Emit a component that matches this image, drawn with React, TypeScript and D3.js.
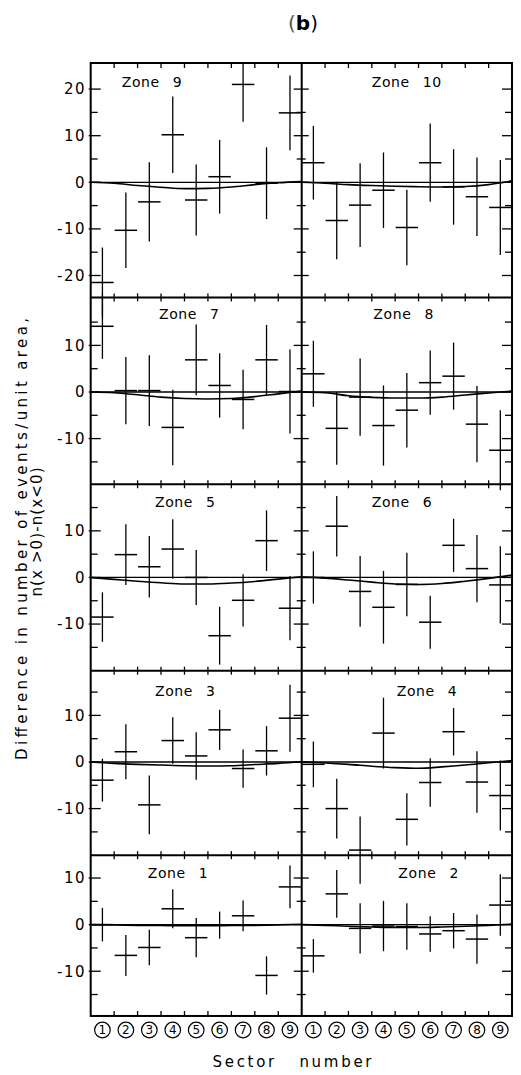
import React from 'react';
import * as d3 from 'd3';

// ---------- data ----------
const sectors = [1, 2, 3, 4, 5, 6, 7, 8, 9];
const modelPts = [0, 1, 2, 3, 4, 5, 6, 7, 8, 9]; // sector boundaries where model curve was read

const zone9Val = [-21.5, -10.3, -4.2, 10.2, -3.8, 1.2, 21.0, -0.2, 14.9];
const zone9Err = [7.5, 8.1, 8.5, 8.2, 7.6, 7.9, 8.0, 7.7, 8.0];
const zone9Model = [0, -0.2, -0.7, -1.05, -1.35, -1.3, -1.0, -0.5, -0.1, 0.15];

const zone10Val = [4.2, -8.2, -4.9, -1.7, -9.7, 4.2, -1.0, -3.1, -5.4];
const zone10Err = [7.9, 8.3, 9.0, 8.1, 8.1, 8.4, 8.1, 8.4, 10.2];
const zone10Model = [0, -0.2, -0.5, -0.7, -0.85, -0.95, -1.0, -0.9, -0.5, 0.3];

const zone7Val = [14.1, 0.3, 0.3, -7.6, 6.9, 1.4, -1.6, 6.9, 0.1];
const zone7Err = [7.0, 7.2, 7.6, 8.1, 7.6, 6.9, 6.4, 7.5, 9.0];
const zone7Model = [0, -0.15, -0.6, -1.1, -1.4, -1.5, -1.4, -1.0, -0.4, 0.2];

const zone8Val = [3.9, -7.8, -1.1, -7.2, -3.9, 2.0, 3.4, -6.9, -12.5];
const zone8Err = [7.1, 7.8, 8.3, 8.6, 8.0, 6.9, 7.2, 8.2, 8.6];
const zone8Model = [0, -0.15, -0.8, -1.15, -1.3, -1.3, -1.1, -0.65, -0.2, 0.2];

const zone5Val = [-8.5, 4.9, 2.3, 6.1, 0, -12.5, -4.9, 7.9, -6.6];
const zone5Err = [5.3, 6.5, 6.6, 6.4, 5.9, 6.2, 5.6, 6.5, 6.9];
const zone5Model = [0, -0.4, -0.8, -1.15, -1.4, -1.4, -1.2, -0.85, -0.35, 0.15];

const zone6Val = [0, 11.0, -3.0, -6.4, -1.5, -9.6, 6.9, 1.9, -1.6];
const zone6Err = [5.6, 6.5, 7.6, 7.8, 6.8, 5.7, 5.7, 7.2, 8.3];
const zone6Model = [0.1, -0.15, -0.55, -1.0, -1.4, -1.5, -1.3, -0.8, -0.2, 0.5];

const zone3Val = [-3.9, 2.2, -9.2, 4.6, 1.3, 6.9, -1.4, 2.4, 9.4];
const zone3Err = [4.6, 5.9, 6.3, 5.0, 5.1, 4.3, 4.1, 5.3, 7.2];
const zone3Model = [0, -0.3, -0.5, -0.65, -0.8, -0.85, -0.8, -0.55, -0.3, 0.05];

const zone4Val = [-0.5, -10.0, -18.9, 6.2, -12.3, -4.4, 6.5, -4.3, -7.2];
const zone4Err = [4.9, 6.4, 7.2, 7.6, 5.6, 5.2, 5.1, 6.6, 7.5];
const zone4Model = [0, -0.2, -0.5, -0.9, -1.2, -1.35, -1.05, -0.65, -0.15, 0.3];

const zone1Val = [0, -6.6, -4.9, 3.4, -2.8, -0.1, 1.9, -10.9, 8.1];
const zone1Err = [3.6, 4.4, 3.8, 4.2, 4.2, 2.9, 3.3, 4.1, 4.6];
const zone1Model = [0, -0.05, -0.15, -0.2, -0.25, -0.25, -0.2, -0.15, -0.05, 0.1];

const zone2Val = [-6.7, 6.6, -0.8, -0.3, -0.4, -2.0, -1.3, -3.1, 4.2];
const zone2Err = [3.6, 5.1, 5.4, 5.4, 5.0, 3.8, 3.8, 5.3, 6.6];
const zone2Model = [0, -0.15, -0.35, -0.5, -0.6, -0.6, -0.5, -0.35, -0.15, 0.1];

const rowZones = [[9, 10], [7, 8], [5, 6], [3, 4], [1, 2]];
const rowDomains: [number, number][] = [[-24.7, 25.6], [-19.8, 20.3], [-20, 20], [-20, 19.6], [-19.6, 14.9]];
const yTickStep = 5;

const title = 'b';
const yLabel1 = 'Difference in number of events/unit area,';
const yLabel2 = 'n(x >0)-n(x<0)';
const xLabel = 'Sector   number';

// ---------- build table ----------
const zoneTable: Record<number, { val: number[]; err: number[]; model: number[] }> = {
  9: { val: zone9Val, err: zone9Err, model: zone9Model },
  10: { val: zone10Val, err: zone10Err, model: zone10Model },
  7: { val: zone7Val, err: zone7Err, model: zone7Model },
  8: { val: zone8Val, err: zone8Err, model: zone8Model },
  5: { val: zone5Val, err: zone5Err, model: zone5Model },
  6: { val: zone6Val, err: zone6Err, model: zone6Model },
  3: { val: zone3Val, err: zone3Err, model: zone3Model },
  4: { val: zone4Val, err: zone4Err, model: zone4Model },
  1: { val: zone1Val, err: zone1Err, model: zone1Model },
  2: { val: zone2Val, err: zone2Err, model: zone2Model },
};

// ---------- layout ----------
const W = 521, H = 1075;
const X0 = 90.7, XM = 301.7, X1 = 512;
const TOP = 63;
const K = 4.66; // px per unit
const labelX: Record<number, number> = { 9: 121.7, 10: 371.7, 7: 159, 8: 373.3, 5: 155, 6: 371.7, 3: 155, 4: 396.7, 1: 147.7, 2: 398.3 };
const labelDy = [24.3, 21.3, 23, 25, 22.7];
const FONT = '"DejaVu Sans", Verdana, sans-serif';

const fmtTick = (t: number) => (t < 0 ? '-' + String(Math.abs(t)) : String(t));

export default function App() {
  const rows: { top: number; bottom: number; y: d3.ScaleLinear<number, number> }[] = [];
  let cur = TOP;
  rowDomains.forEach((d) => {
    const h = (d[1] - d[0]) * K;
    const y = d3.scaleLinear().domain(d).range([cur + h, cur]);
    rows.push({ top: cur, bottom: cur + h, y });
    cur += h;
  });
  const BOTTOM = cur;
  const xLeft = d3.scaleLinear().domain([0, 9]).range([X0, XM]);
  const xRight = d3.scaleLinear().domain([0, 9]).range([XM, X1]);
  const xs = [xLeft, xRight];

  const els: React.ReactNode[] = [];

  rows.forEach((row, ri) => {
    const { y } = row;
    const ticks = d3.range(Math.ceil(rowDomains[ri][0] / yTickStep) * yTickStep, rowDomains[ri][1] + 0.001, yTickStep)
      .filter((t) => t > rowDomains[ri][0] + 1 && t < rowDomains[ri][1] - 1);
    ticks.forEach((t) => {
      const major = Math.round(t) % 10 === 0;
      const yy = y(t);
      els.push(<line key={`lt${ri}${t}`} x1={X0 - (major ? 2 : 0)} x2={X0 + (major ? 10 : 7)} y1={yy} y2={yy} stroke="#000" strokeWidth={1.3} />);
      els.push(<line key={`mt${ri}${t}`} x1={XM - (major ? 8 : 5)} x2={XM + (major ? 7 : 4)} y1={yy} y2={yy} stroke="#000" strokeWidth={1.3} />);
      els.push(<line key={`rt${ri}${t}`} x1={X1 - (major ? 10 : 7)} x2={X1} y1={yy} y2={yy} stroke="#000" strokeWidth={1.3} />);
      if (major) {
        els.push(
          <text key={`tl${ri}${t}`} x={86} y={yy} dy="0.36em" textAnchor="end" fontFamily={FONT} fontSize={15} letterSpacing={1.5} fill="#000">
            {fmtTick(t)}
          </text>
        );
      }
    });

    rowZones[ri].forEach((z, side) => {
      const x = xs[side];
      const data = zoneTable[z];
      els.push(<line key={`z${z}`} x1={x(0)} x2={x(9)} y1={y(0)} y2={y(0)} stroke="#000" strokeWidth={1.3} />);
      const line = d3.line<number>().x((_, i) => x(modelPts[i])).y((v) => y(v)).curve(d3.curveMonotoneX);
      els.push(<path key={`m${z}`} d={line(data.model) || ''} fill="none" stroke="#000" strokeWidth={1.6} />);
      sectors.forEach((s, i) => {
        const cx = x(s - 0.5);
        const v = data.val[i];
        const e = data.err[i];
        els.push(<line key={`v${z}-${s}`} x1={cx} x2={cx} y1={y(v + e)} y2={y(v - e)} stroke="#000" strokeWidth={1.3} />);
        els.push(<line key={`h${z}-${s}`} x1={x(s - 1) + 0.5} x2={x(s) - 0.5} y1={y(v)} y2={y(v)} stroke="#000" strokeWidth={1.5} />);
      });
      els.push(
        <text key={`lab${z}`} x={labelX[z]} y={row.top + labelDy[ri]} fontFamily={FONT} fontSize={14} letterSpacing={0.6} wordSpacing={8} fill="#000">
          {`Zone ${z}`}
        </text>
      );
    });

    xs.forEach((x, side) => {
      d3.range(1, 9).forEach((b) => {
        const xx = x(b);
        if (ri === 0) {
          els.push(<line key={`tt${side}${b}`} x1={xx} x2={xx} y1={row.top} y2={row.top + 5} stroke="#000" strokeWidth={1.3} />);
        } else {
          els.push(<line key={`st${ri}${side}${b}`} x1={xx} x2={xx} y1={row.top - 4} y2={row.top + 4} stroke="#000" strokeWidth={1.3} />);
        }
        if (ri === rows.length - 1) {
          els.push(<line key={`bt${side}${b}`} x1={xx} x2={xx} y1={row.bottom - 5} y2={row.bottom} stroke="#000" strokeWidth={1.3} />);
        }
      });
    });
    if (ri > 0) {
      els.push(<line key={`sep${ri}`} x1={X0} x2={X1} y1={row.top} y2={row.top} stroke="#000" strokeWidth={2} />);
    }
  });

  const circ: React.ReactNode[] = [];
  xs.forEach((x, side) => {
    sectors.forEach((s) => {
      const cx = x(s - 0.5);
      circ.push(<circle key={`c${side}${s}`} cx={cx} cy={1030} r={7.8} fill="none" stroke="#000" strokeWidth={1.2} />);
      circ.push(
        <text key={`ct${side}${s}`} x={cx} y={1030} dy="0.37em" textAnchor="middle" fontFamily={FONT} fontSize={12} fill="#000">
          {s}
        </text>
      );
    });
  });

  return (
    <svg width={W} height={H} style={{ position: 'absolute', left: 0, top: 0, background: '#fff' }}>
      <rect width={W} height={H} fill="#fff" />
      <defs>
        <clipPath id="plotclip">
          <rect x={0} y={TOP} width={W} height={H - TOP} />
        </clipPath>
      </defs>
      <text x={303} y={30} textAnchor="middle" fontFamily={FONT} fontSize={20} fill="#000">
        <tspan fontWeight="normal" fill="#555">(</tspan>
        <tspan fontWeight="bold">{title}</tspan>
        <tspan fontWeight="normal">)</tspan>
      </text>
      <g clipPath="url(#plotclip)">{els}</g>
      <rect x={X0} y={TOP} width={X1 - X0} height={BOTTOM - TOP} fill="none" stroke="#000" strokeWidth={2} />
      <line x1={XM} x2={XM} y1={TOP} y2={BOTTOM} stroke="#000" strokeWidth={2} />
      {circ}
      <text x={292} y={1067} textAnchor="middle" fontFamily={FONT} fontSize={15} textLength={159} lengthAdjust="spacing" style={{ whiteSpace: 'pre' }} fill="#000">
        {xLabel}
      </text>
      <text transform="translate(27,539) rotate(-90)" textAnchor="middle" fontFamily={FONT} fontSize={15} textLength={442} lengthAdjust="spacing" fill="#000">
        {yLabel1}
      </text>
      <text transform="translate(42,532) rotate(-90)" textAnchor="middle" fontFamily={FONT} fontSize={15} textLength={129} lengthAdjust="spacing" fill="#000">
        {yLabel2}
      </text>
    </svg>
  );
}
